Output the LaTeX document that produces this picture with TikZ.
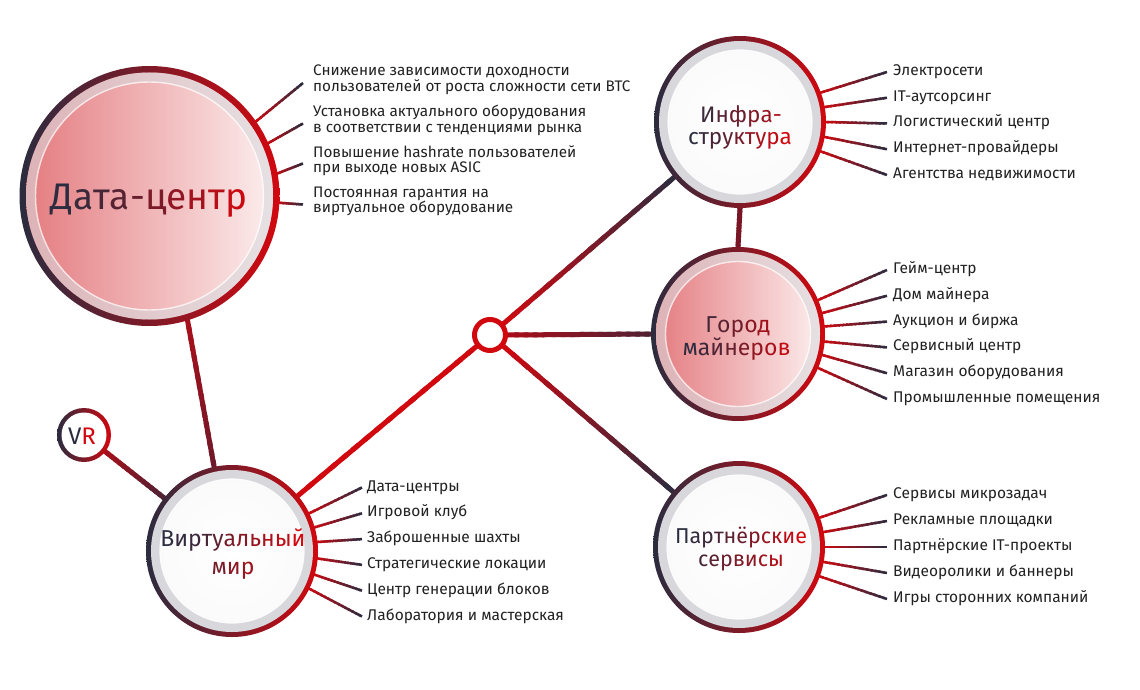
\documentclass[tikz,border=0pt]{standalone}
\usepackage{fontspec}
\setmainfont{Fira Sans}
\usetikzlibrary{calc}
\definecolor{darkc}{HTML}{2B2C3F}
\definecolor{redc}{HTML}{D2080F}
\definecolor{midred}{HTML}{7A1526}
\definecolor{txt}{HTML}{222222}
\definecolor{band}{HTML}{D8D8DC}
\definecolor{pinkL}{HTML}{E47C80}
\definecolor{pinkR}{HTML}{FCEEEE}
\newcommand{\g}[2]{\textcolor{redc!#1!darkc}{#2}}
% gradient connector: A, B, colour at A, colour at B, width, extension at B
\newcommand{\gradline}[6]{%
  \coordinate (gA) at ($(#1)!-3pt!(#2)$);
  \coordinate (gB) at ($(#2)!-#6!(#1)$);
  \foreach \k in {1,...,16}{%
    \pgfmathsetmacro\pc{100-(\k-0.5)*100/16}%
    \pgfmathsetmacro\ta{(\k-1)/16}%
    \pgfmathsetmacro\tb{min(\k+0.5,16)/16}%
    \draw[line width=#5, draw=#3!\pc!#4] ($(gA)!\ta!(gB)$) -- ($(gA)!\tb!(gB)$);
  }}
\newcommand{\ringdisk}[2]{\shade[left color=darkc, middle color=midred!70!redc, right color=redc] (#1) circle[radius=#2pt];}
\newcommand{\pinkcircle}[3]{%
  \ringdisk{#1}{#2}
  \shade[left color=pinkL, right color=pinkR] (#1) circle[radius=#2pt-#3pt];
  \draw[band, opacity=.6, line width=9pt] (#1) circle[radius=#2pt-#3pt-4.5pt];
  \draw[white, opacity=.75, line width=1.4pt] (#1) circle[radius=#2pt-#3pt-9.5pt];}
\newcommand{\whitecircle}[3]{%
  \ringdisk{#1}{#2}
  \fill[band] (#1) circle[radius=#2pt-#3pt];
  \shade[inner color=white, outer color=white!88!band] (#1) circle[radius=#2pt-#3pt-9pt];
  \draw[white, opacity=.8, line width=1.2pt] (#1) circle[radius=#2pt-#3pt-9pt];}
\begin{document}
\begin{tikzpicture}[x=1pt,y=-1pt,
  hole/.style={circle, inner sep=0pt, outer sep=0pt},
  item/.style={anchor=base west, inner sep=0pt, text=txt, font=\fontsize{15.5}{18}\selectfont},
  itemtwo/.style={anchor=west, inner sep=0pt, text=txt, align=left, font=\fontsize{15.3}{15.5}\selectfont},
  lbl/.style={anchor=base, inner sep=0pt}]
\useasboundingbox[fill=white] (0,0) rectangle (1140,690);

% circle places
\node[hole, minimum size=260pt] (dc) at (149.5,196) {};
\node[hole, minimum size=172pt] (infra) at (740,122) {};
\node[hole, minimum size=174pt] (city) at (738,334) {};
\node[hole, minimum size=172pt] (partner) at (739,547) {};
\node[hole, minimum size=172pt] (virt) at (232,551) {};
\node[hole, minimum size=54pt] (vr) at (84,435) {};
\node[hole, minimum size=36pt] (hub) at (490,335) {};

% lists
\node[itemtwo] (d1) at (313,80) {Снижение зависимости доходности\\пользователей от роста сложности сети BTC};
\node[itemtwo] (d2) at (313,120.5) {Установка актуального оборудования\\в соответствии с тенденциями рынка};
\node[itemtwo] (d3) at (313,160.5) {Повышение hashrate пользователей\\при выходе новых ASIC};
\node[itemtwo] (d4) at (313,201.5) {Постоянная гарантия на\\виртуальное оборудование};
\foreach \i in {1,...,4} \coordinate (dE\i) at ($(d\i.west)+(-10,3)$);

\foreach \t [count=\i] in {Электросети, IT-аутсорсинг, Логистический центр, Интернет-провайдеры, Агентства недвижимости}
  {\node[item] (inf\i) at (893,{75.5+25.75*(\i-1)}) {\t};
   \coordinate (infE\i) at ($(inf\i.base west)+(-6,-3.5)$);}
\foreach \t [count=\i] in {Гейм-центр, Дом майнера, Аукцион и биржа, Сервисный центр, Магазин оборудования, Промышленные помещения}
  {\node[item] (cit\i) at (893,{273.5+25.8*(\i-1)}) {\t};
   \coordinate (citE\i) at ($(cit\i.base west)+(-6,-3.5)$);}
\foreach \t [count=\i] in {Сервисы микрозадач, Рекламные площадки, Партнёрские IT-проекты, Видеоролики и баннеры, Игры сторонних компаний}
  {\node[item] (par\i) at (893,{498.5+26*(\i-1)}) {\t};
   \coordinate (parE\i) at ($(par\i.base west)+(-6,-3.5)$);}
\foreach \t [count=\i] in {Дата-центры, Игровой клуб, Заброшенные шахты, Стратегические локации, Центр генерации блоков, Лаборатория и мастерская}
  {\node[item] (vir\i) at (367,{491+25.8*(\i-1)}) {\t};
   \coordinate (virE\i) at ($(vir\i.base west)+(-5,-3.5)$);}

% ticks
\foreach \a [count=\i] in {35,24,10,-3} {\gradline{dc.\a}{dE\i}{redc}{darkc}{2.5pt}{0pt}}
\foreach \a [count=\i] in {20,10,0,-10,-20} {\gradline{infra.\a}{infE\i}{redc}{darkc}{2.5pt}{0pt}}
\foreach \a [count=\i] in {23,14,5,-5,-14,-23} {\gradline{city.\a}{citE\i}{redc}{darkc}{2.5pt}{0pt}}
\foreach \a [count=\i] in {20,10,0,-10,-20} {\gradline{partner.\a}{parE\i}{redc}{darkc}{2.5pt}{0pt}}
\foreach \a [count=\i] in {26,16,6,-5,-16,-26} {\gradline{virt.\a}{virE\i}{redc}{darkc}{2.5pt}{0pt}}

% connectors
\gradline{dc.-73}{virt.102}{redc!80!midred}{midred!85!darkc}{5pt}{3pt}
\gradline{vr.-38}{virt.142}{redc!90!midred}{darkc!60!midred}{5pt}{3pt}
\gradline{virt.40}{hub.220}{redc}{redc}{5pt}{3pt}
\gradline{hub.40}{infra.220}{redc}{darkc}{5pt}{3pt}
\gradline{hub.0}{city.180}{redc}{darkc!55!midred}{5pt}{3pt}
\gradline{hub.-40}{partner.140}{redc}{darkc}{5pt}{3pt}
\gradline{infra.270}{city.90}{midred}{midred}{5pt}{3pt}

% circles
\pinkcircle{dc}{130}{6.5}
\whitecircle{infra}{86}{5}
\pinkcircle{city}{87}{5}
\whitecircle{partner}{86}{5}
\whitecircle{virt}{86}{5}
\ringdisk{vr}{27}
\fill[white] (vr) circle[radius=22.5pt];
\draw[redc, line width=5pt, fill=white] (hub) circle[radius=15.5pt];

% labels
\node[lbl, font=\fontsize{37}{40}\selectfont] (dcl) at (149,209)
  {\g{0}{Д}\g{8}{а}\g{16}{т}\g{26}{а}\g{36}{-}\g{48}{ц}\g{60}{е}\g{72}{н}\g{84}{т}\g{95}{р}};
\node[lbl, font=\fontsize{22.5}{24}\selectfont] (infl1) at (741,122.7) {\g{12}{И}\g{25}{н}\g{38}{ф}\g{52}{р}\g{66}{а}\g{78}{-}};
\node[lbl, font=\fontsize{22.5}{24}\selectfont] (infl2) at (740,144.5) {\g{0}{с}\g{8}{т}\g{18}{р}\g{30}{у}\g{45}{к}\g{60}{т}\g{75}{у}\g{88}{р}\g{100}{а}};
\node[lbl, font=\fontsize{23}{24}\selectfont] (cityl1) at (738,332) {\g{15}{Г}\g{28}{о}\g{42}{р}\g{56}{о}\g{70}{д}};
\node[lbl, font=\fontsize{23}{24}\selectfont] (cityl2) at (736.5,355) {\g{0}{м}\g{10}{а}\g{22}{й}\g{34}{н}\g{48}{е}\g{62}{р}\g{76}{о}\g{92}{в}};
\node[lbl, font=\fontsize{23}{24}\selectfont] (virl1) at (233,546) {\g{0}{В}\g{5}{и}\g{10}{р}\g{18}{т}\g{30}{у}\g{45}{а}\g{56}{л}\g{66}{ь}\g{76}{н}\g{88}{ы}\g{100}{й}};
\node[lbl, font=\fontsize{23}{24}\selectfont] (virl2) at (233,574) {\g{45}{м}\g{58}{и}\g{68}{р}};
\node[lbl, font=\fontsize{21.5}{24}\selectfont] (parl1) at (741,543.5) {\g{0}{П}\g{5}{а}\g{10}{р}\g{18}{т}\g{28}{н}\g{38}{ё}\g{52}{р}\g{64}{с}\g{76}{к}\g{88}{и}\g{100}{е}};
\node[lbl, font=\fontsize{21.5}{24}\selectfont] (parl2) at (741,566) {\g{18}{с}\g{28}{е}\g{38}{р}\g{48}{в}\g{58}{и}\g{68}{с}\g{78}{ы}};
\node[lbl, font=\fontsize{24}{26}\selectfont] (vrl) at (82,444) {\g{0}{V}\g{100}{R}};
\end{tikzpicture}
\end{document}
